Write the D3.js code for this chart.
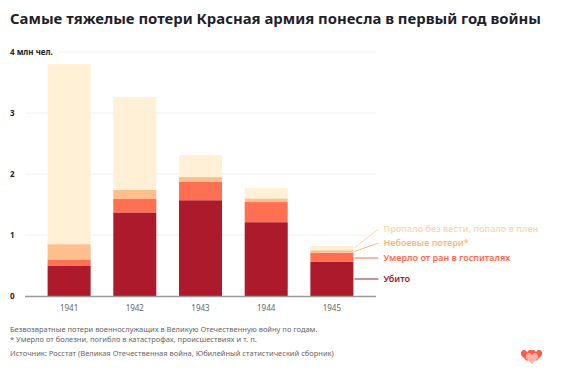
<!DOCTYPE html>
<html>
<meta charset="utf-8">
<style>
body { margin: 0; background: #fff; }
svg text { font-family: "Noto Sans", sans-serif; }
.grid line { stroke: #f0f0f0; stroke-width: 1; }
.tick-label { font-size: 8px; font-weight: bold; fill: #222; }
.year { font-size: 8px; fill: #666; }
.note { font-size: 7.5px; fill: #666; }
</style>
<body>
<svg width="572" height="372"></svg>
<script src="https://d3js.org/d3.v7.min.js"></script>
<script>

var years = ["1941", "1942", "1943", "1944", "1945"];
var killed    = [0.50, 1.37, 1.57, 1.21, 0.56];
var wounds    = [0.10, 0.22, 0.30, 0.33, 0.15];
var nonCombat = [0.25, 0.15, 0.08, 0.06, 0.04];
var missing   = [2.95, 1.52, 0.36, 0.17, 0.07];

var seriesNames = ["Убито", "Умерло от ран в госпиталях", "Небоевые потери*", "Пропало без вести, попало в плен"];
var yTicks = [0, 1, 2, 3, 4];

var colors = ["#ad1a2c", "#ff7052", "#ffbe8e", "#fff0d6"];
var labelColors = ["#a8182b", "#ff6a4a", "#ffb681", "#fbd9b0"];

var svg = d3.select("svg");

var y = d3.scaleLinear().domain([0, 4]).range([296, 52]);
var x = d3.scaleBand().domain(years).range([25, 376])
    .paddingInner(0.345).paddingOuter(0.344);

// title
svg.append("text")
    .attr("x", 10).attr("y", 24)
    .attr("font-size", 15).attr("font-weight", "bold")
    .attr("fill", "#1f1f2b")
    .attr("textLength", 531).attr("lengthAdjust", "spacingAndGlyphs")
    .text("Самые тяжелые потери Красная армия понесла в первый год войны");

// grid
var grid = svg.append("g").attr("class", "grid");
grid.selectAll("line")
  .data(yTicks.filter(function(d) { return d > 0; }))
  .enter().append("line")
    .attr("x1", function(d) { return d === 4 ? 58 : 25; })
    .attr("x2", 376)
    .attr("y1", function(d) { return y(d); })
    .attr("y2", function(d) { return y(d); });

svg.selectAll(".tick-label")
  .data(yTicks)
  .enter().append("text")
    .attr("class", "tick-label")
    .attr("x", 10)
    .attr("y", function(d) { return y(d) + 3; })
    .text(function(d) { return d === 4 ? "4 млн чел." : d; });

// stacked bars
var rows = years.map(function(yr, i) {
  return { year: yr, s0: killed[i], s1: wounds[i], s2: nonCombat[i], s3: missing[i] };
});
var stack = d3.stack().keys(["s0", "s1", "s2", "s3"]);
var layers = stack(rows);

svg.append("g").selectAll("g")
  .data(layers)
  .enter().append("g")
    .attr("fill", function(d, i) { return colors[i]; })
  .selectAll("rect")
  .data(function(d) { return d; })
  .enter().append("rect")
    .attr("x", function(d) { return x(d.data.year); })
    .attr("width", x.bandwidth())
    .attr("y", function(d) { return y(d[1]); })
    .attr("height", function(d) { return y(d[0]) - y(d[1]); });

// baseline
svg.append("line")
    .attr("x1", 25).attr("x2", 376)
    .attr("y1", y(0) + 0.5).attr("y2", y(0) + 0.5)
    .attr("stroke", "#999").attr("stroke-width", 1.5);

svg.selectAll(".year")
  .data(years)
  .enter().append("text")
    .attr("class", "year")
    .attr("x", function(d) { return x(d) + x.bandwidth() / 2; })
    .attr("y", 311)
    .attr("text-anchor", "middle")
    .text(function(d) { return d; });

// legend labels next to last bar
var labelY = [279, 258, 243, 229];
var last = years.length - 1;
var barRight = x(years[last]) + x.bandwidth();

var leg = svg.append("g").selectAll("g")
  .data(layers)
  .enter().append("g");

leg.append("line")
    .attr("x1", barRight + 1)
    .attr("y1", function(d, i) {
      var seg = d[last];
      var mid = y((seg[0] + seg[1]) / 2);
      return i < 2 ? labelY[i] : mid;
    })
    .attr("x2", barRight + 25)
    .attr("y2", function(d, i) { return labelY[i]; })
    .attr("stroke", function(d, i) { return labelColors[i]; })
    .attr("stroke-width", 1);

leg.append("text")
    .attr("x", barRight + 30)
    .attr("y", function(d, i) { return labelY[i] + 3.3; })
    .attr("font-size", 9)
    .attr("font-weight", 600)
    .attr("fill", function(d, i) { return labelColors[i]; })
    .text(function(d, i) { return seriesNames[i]; });

// notes
var notes = [
  ["Безвозвратные потери военнослужащих в Великую Отечественную войну по годам.", 332],
  ["* Умерло от болезни, погибло в катастрофах, происшествиях и т. п.", 342],
  ["Источник: Росстат (Великая Отечественная война, Юбилейный статистический сборник)", 356]
];
svg.selectAll(".note")
  .data(notes)
  .enter().append("text")
    .attr("class", "note")
    .attr("x", 10)
    .attr("y", function(d) { return d[1]; })
    .text(function(d) { return d[0]; });

// logo: two pixel hearts
var logo = svg.append("g").attr("transform", "translate(521,350)");
function heart(g, dx, dy, fill) {
  var h = g.append("g").attr("transform", "translate(" + dx + "," + dy + ")").attr("fill", fill);
  h.append("path").attr("d", "M0,2 L2,0 L4,0 L6,2 L8,0 L10,0 L12,2 L12,5 L6,11 L0,5 Z");
}
heart(logo, 0, 0, "#ff5a46");
heart(logo, 9, 0, "#ff5a46");
heart(logo, 5, 3, "#ffb3a8");

</script>
</body>
</html>
